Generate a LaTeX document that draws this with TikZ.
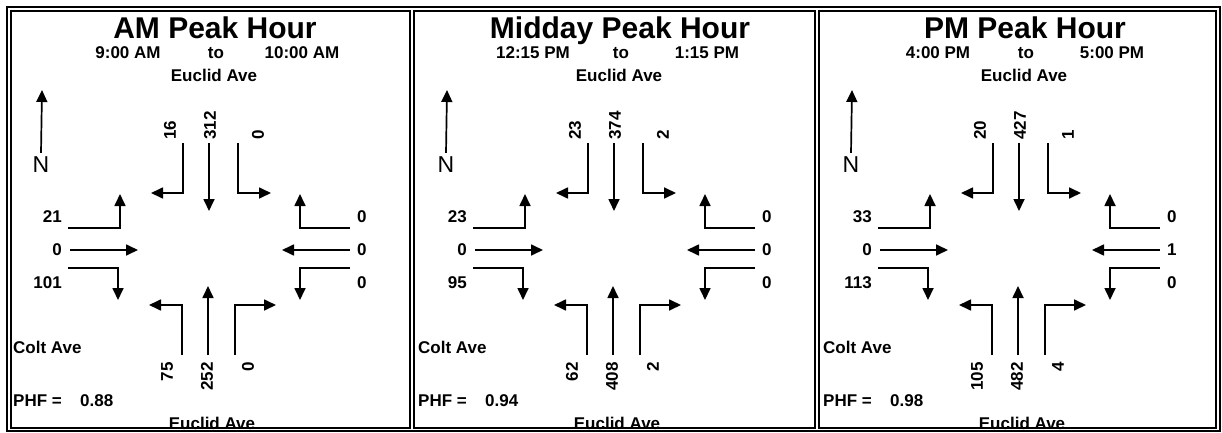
\documentclass[tikz,border=0pt]{standalone}
\usepackage{fontspec}
\setmainfont{Liberation Sans}
\usetikzlibrary{arrows.meta}
\begin{document}
\begin{tikzpicture}[x=1pt,y=-1pt,
  flow/.style={line width=1.7pt,-{Triangle[length=12pt,width=11pt]}},
  lbl/.style={font=\bfseries\fontsize{17}{17}\selectfont,inner sep=0pt},
  vlbl/.style={lbl,rotate=90},
  ttl/.style={font=\bfseries\fontsize{30}{30}\selectfont,inner sep=0pt},
  nlbl/.style={font=\fontsize{23}{23}\selectfont,inner sep=0pt},
  frame/.style={line width=1.3pt}]
\useasboundingbox (0,0) rectangle (1222,433);
\draw[frame] (7,7) rectangle (1220,431);
\draw[frame] (11,11) rectangle (410,428);
\draw[frame] (414,11) rectangle (815,428);
\draw[frame] (819,11) rectangle (1216,428);
\foreach \i/\ox/\ttltxt/\tma/\tmb/\sbl/\sbt/\sbr/\ebl/\ebt/\ebr/\wbl/\wbt/\wbr/\nbl/\nbt/\nbr/\phf in {
  1/0/AM Peak Hour/9:00 AM/10:00 AM/16/312/0/21/0/101/0/0/0/75/252/0/0.88,
  2/405/Midday Peak Hour/12:15 PM/1:15 PM/23/374/2/23/0/95/0/0/0/62/408/2/0.94,
  3/810/PM Peak Hour/4:00 PM/5:00 PM/20/427/1/33/0/113/0/1/0/105/482/4/0.98}{
\begin{scope}[shift={(\ox,0)}]
  \node[ttl,anchor=base] (title\i) at (215,39) {\ttltxt};
  \node[lbl,anchor=base] (tma\i) at (128,59) {\tma};
  \node[lbl,anchor=base] (to\i) at (216,59) {to};
  \node[lbl,anchor=base] (tmb\i) at (302,59) {\tmb};
  \node[lbl,anchor=base] (streetN\i) at (214,82) {Euclid Ave};
  % north arrow
  \node[nlbl,anchor=base] (north\i) at (41,172) {N};
  \coordinate (ntip\i) at (42,90);
  \draw[flow] (north\i.north) ++(0,-3) -- (ntip\i);
  % southbound
  \node[vlbl,anchor=west] (sbl\i) at (170,140) {\sbl};
  \node[vlbl,anchor=west] (sbt\i) at (210,140) {\sbt};
  \node[vlbl,anchor=west] (sbr\i) at (258,140) {\sbr};
  \draw[flow] (183,143) -- (183,193) -- (151,193);
  \draw[flow] (209,143) -- (209,211);
  \draw[flow] (238,143) -- (238,193) -- (271,193);
  % eastbound
  \node[lbl,anchor=east] (ebl\i) at (62,217) {\ebl};
  \node[lbl,anchor=east] (ebt\i) at (62,250) {\ebt};
  \node[lbl,anchor=east] (ebr\i) at (62,283) {\ebr};
  \draw[flow] (68,228) -- (120,228) -- (120,194);
  \draw[flow] (70,250) -- (138,250);
  \draw[flow] (68,268) -- (118,268) -- (118,300);
  % westbound
  \node[lbl,anchor=west] (wbl\i) at (357,217) {\wbl};
  \node[lbl,anchor=west] (wbt\i) at (357,250) {\wbt};
  \node[lbl,anchor=west] (wbr\i) at (357,283) {\wbr};
  \draw[flow] (350,228) -- (300,228) -- (300,194);
  \draw[flow] (350,250) -- (282,250);
  \draw[flow] (350,268) -- (300,268) -- (300,300);
  % northbound
  \draw[flow] (182,355) -- (182,305) -- (149,305);
  \draw[flow] (208,355) -- (208,286);
  \draw[flow] (235,355) -- (235,305) -- (276,305);
  \node[vlbl,anchor=east] (nbl\i) at (167,362) {\nbl};
  \node[vlbl,anchor=east] (nbt\i) at (207,362) {\nbt};
  \node[vlbl,anchor=east] (nbr\i) at (248,362) {\nbr};
  % bottom texts
  \node[lbl,anchor=base west] (streetW\i) at (13,353) {Colt Ave};
  \node[lbl,anchor=base west] (phfl\i) at (13,406) {PHF =};
  \node[lbl,anchor=base west] (phfv\i) at (80,406) {\phf};
  \node[lbl,anchor=base] (streetS\i) at (212,429) {Euclid Ave};
\end{scope}}
\end{tikzpicture}
\end{document}
